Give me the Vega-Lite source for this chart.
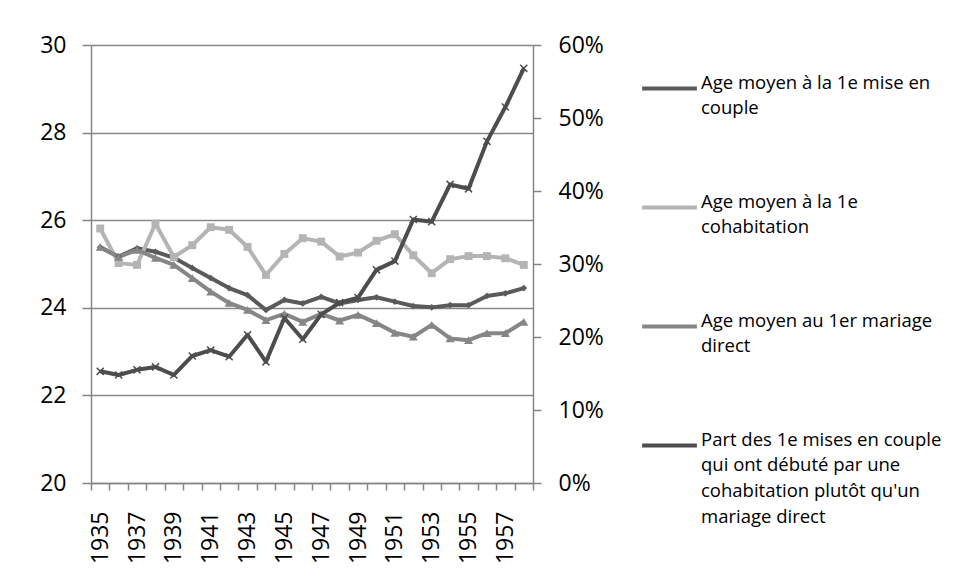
{
  "$schema": "https://vega.github.io/schema/vega-lite/v6.json",
  "width": 442,
  "height": 438,
  "autosize": {"type": "none"},
  "padding": {"left": 91, "top": 45, "right": 424, "bottom": 101},
  "background": "white",
  "config": {
    "view": {"stroke": null},
    "font": "Open Sans",
    "style": {"guide-label": {"lineHeight": 25.7}},
    "axis": {"labelFont": "Open Sans", "labelFontSize": 23, "labelColor": "#000000", "domainColor": "#868686", "tickColor": "#868686", "gridColor": "#868686", "domainWidth": 1.5, "tickWidth": 1.5, "gridWidth": 1.5}
  },
  "datasets": {
    "ages": [
      {"year": 1935, "series": "Age moyen à la 1e mise en couple", "value": 25.38},
      {"year": 1936, "series": "Age moyen à la 1e mise en couple", "value": 25.17},
      {"year": 1937, "series": "Age moyen à la 1e mise en couple", "value": 25.36},
      {"year": 1938, "series": "Age moyen à la 1e mise en couple", "value": 25.28},
      {"year": 1939, "series": "Age moyen à la 1e mise en couple", "value": 25.14},
      {"year": 1940, "series": "Age moyen à la 1e mise en couple", "value": 24.91},
      {"year": 1941, "series": "Age moyen à la 1e mise en couple", "value": 24.68},
      {"year": 1942, "series": "Age moyen à la 1e mise en couple", "value": 24.45},
      {"year": 1943, "series": "Age moyen à la 1e mise en couple", "value": 24.29},
      {"year": 1944, "series": "Age moyen à la 1e mise en couple", "value": 23.95},
      {"year": 1945, "series": "Age moyen à la 1e mise en couple", "value": 24.18},
      {"year": 1946, "series": "Age moyen à la 1e mise en couple", "value": 24.1},
      {"year": 1947, "series": "Age moyen à la 1e mise en couple", "value": 24.25},
      {"year": 1948, "series": "Age moyen à la 1e mise en couple", "value": 24.1},
      {"year": 1949, "series": "Age moyen à la 1e mise en couple", "value": 24.18},
      {"year": 1950, "series": "Age moyen à la 1e mise en couple", "value": 24.24},
      {"year": 1951, "series": "Age moyen à la 1e mise en couple", "value": 24.14},
      {"year": 1952, "series": "Age moyen à la 1e mise en couple", "value": 24.04},
      {"year": 1953, "series": "Age moyen à la 1e mise en couple", "value": 24.01},
      {"year": 1954, "series": "Age moyen à la 1e mise en couple", "value": 24.06},
      {"year": 1955, "series": "Age moyen à la 1e mise en couple", "value": 24.06},
      {"year": 1956, "series": "Age moyen à la 1e mise en couple", "value": 24.27},
      {"year": 1957, "series": "Age moyen à la 1e mise en couple", "value": 24.33},
      {"year": 1958, "series": "Age moyen à la 1e mise en couple", "value": 24.45},
      {"year": 1935, "series": "Age moyen à la 1e cohabitation", "value": 25.81},
      {"year": 1936, "series": "Age moyen à la 1e cohabitation", "value": 25.02},
      {"year": 1937, "series": "Age moyen à la 1e cohabitation", "value": 24.98},
      {"year": 1938, "series": "Age moyen à la 1e cohabitation", "value": 25.92},
      {"year": 1939, "series": "Age moyen à la 1e cohabitation", "value": 25.16},
      {"year": 1940, "series": "Age moyen à la 1e cohabitation", "value": 25.43},
      {"year": 1941, "series": "Age moyen à la 1e cohabitation", "value": 25.84},
      {"year": 1942, "series": "Age moyen à la 1e cohabitation", "value": 25.78},
      {"year": 1943, "series": "Age moyen à la 1e cohabitation", "value": 25.39},
      {"year": 1944, "series": "Age moyen à la 1e cohabitation", "value": 24.75},
      {"year": 1945, "series": "Age moyen à la 1e cohabitation", "value": 25.23},
      {"year": 1946, "series": "Age moyen à la 1e cohabitation", "value": 25.59},
      {"year": 1947, "series": "Age moyen à la 1e cohabitation", "value": 25.51},
      {"year": 1948, "series": "Age moyen à la 1e cohabitation", "value": 25.17},
      {"year": 1949, "series": "Age moyen à la 1e cohabitation", "value": 25.26},
      {"year": 1950, "series": "Age moyen à la 1e cohabitation", "value": 25.53},
      {"year": 1951, "series": "Age moyen à la 1e cohabitation", "value": 25.68},
      {"year": 1952, "series": "Age moyen à la 1e cohabitation", "value": 25.2},
      {"year": 1953, "series": "Age moyen à la 1e cohabitation", "value": 24.79},
      {"year": 1954, "series": "Age moyen à la 1e cohabitation", "value": 25.11},
      {"year": 1955, "series": "Age moyen à la 1e cohabitation", "value": 25.18},
      {"year": 1956, "series": "Age moyen à la 1e cohabitation", "value": 25.18},
      {"year": 1957, "series": "Age moyen à la 1e cohabitation", "value": 25.13},
      {"year": 1958, "series": "Age moyen à la 1e cohabitation", "value": 24.98},
      {"year": 1935, "series": "Age moyen au 1er mariage direct", "value": 25.39},
      {"year": 1936, "series": "Age moyen au 1er mariage direct", "value": 25.16},
      {"year": 1937, "series": "Age moyen au 1er mariage direct", "value": 25.32},
      {"year": 1938, "series": "Age moyen au 1er mariage direct", "value": 25.14},
      {"year": 1939, "series": "Age moyen au 1er mariage direct", "value": 24.98},
      {"year": 1940, "series": "Age moyen au 1er mariage direct", "value": 24.68},
      {"year": 1941, "series": "Age moyen au 1er mariage direct", "value": 24.37},
      {"year": 1942, "series": "Age moyen au 1er mariage direct", "value": 24.11},
      {"year": 1943, "series": "Age moyen au 1er mariage direct", "value": 23.95},
      {"year": 1944, "series": "Age moyen au 1er mariage direct", "value": 23.72},
      {"year": 1945, "series": "Age moyen au 1er mariage direct", "value": 23.86},
      {"year": 1946, "series": "Age moyen au 1er mariage direct", "value": 23.68},
      {"year": 1947, "series": "Age moyen au 1er mariage direct", "value": 23.86},
      {"year": 1948, "series": "Age moyen au 1er mariage direct", "value": 23.71},
      {"year": 1949, "series": "Age moyen au 1er mariage direct", "value": 23.84},
      {"year": 1950, "series": "Age moyen au 1er mariage direct", "value": 23.65},
      {"year": 1951, "series": "Age moyen au 1er mariage direct", "value": 23.43},
      {"year": 1952, "series": "Age moyen au 1er mariage direct", "value": 23.34},
      {"year": 1953, "series": "Age moyen au 1er mariage direct", "value": 23.61},
      {"year": 1954, "series": "Age moyen au 1er mariage direct", "value": 23.3},
      {"year": 1955, "series": "Age moyen au 1er mariage direct", "value": 23.26},
      {"year": 1956, "series": "Age moyen au 1er mariage direct", "value": 23.42},
      {"year": 1957, "series": "Age moyen au 1er mariage direct", "value": 23.42},
      {"year": 1958, "series": "Age moyen au 1er mariage direct", "value": 23.68}
    ],
    "share": [
      {"year": 1935, "series": "Part des 1e mises en couple qui ont débuté par une cohabitation plutôt qu'un mariage direct", "value": 0.153},
      {"year": 1936, "series": "Part des 1e mises en couple qui ont débuté par une cohabitation plutôt qu'un mariage direct", "value": 0.148},
      {"year": 1937, "series": "Part des 1e mises en couple qui ont débuté par une cohabitation plutôt qu'un mariage direct", "value": 0.155},
      {"year": 1938, "series": "Part des 1e mises en couple qui ont débuté par une cohabitation plutôt qu'un mariage direct", "value": 0.159},
      {"year": 1939, "series": "Part des 1e mises en couple qui ont débuté par une cohabitation plutôt qu'un mariage direct", "value": 0.148},
      {"year": 1940, "series": "Part des 1e mises en couple qui ont débuté par une cohabitation plutôt qu'un mariage direct", "value": 0.174},
      {"year": 1941, "series": "Part des 1e mises en couple qui ont débuté par une cohabitation plutôt qu'un mariage direct", "value": 0.182},
      {"year": 1942, "series": "Part des 1e mises en couple qui ont débuté par une cohabitation plutôt qu'un mariage direct", "value": 0.173},
      {"year": 1943, "series": "Part des 1e mises en couple qui ont débuté par une cohabitation plutôt qu'un mariage direct", "value": 0.203},
      {"year": 1944, "series": "Part des 1e mises en couple qui ont débuté par une cohabitation plutôt qu'un mariage direct", "value": 0.166},
      {"year": 1945, "series": "Part des 1e mises en couple qui ont débuté par une cohabitation plutôt qu'un mariage direct", "value": 0.226},
      {"year": 1946, "series": "Part des 1e mises en couple qui ont débuté par une cohabitation plutôt qu'un mariage direct", "value": 0.197},
      {"year": 1947, "series": "Part des 1e mises en couple qui ont débuté par une cohabitation plutôt qu'un mariage direct", "value": 0.231},
      {"year": 1948, "series": "Part des 1e mises en couple qui ont débuté par une cohabitation plutôt qu'un mariage direct", "value": 0.247},
      {"year": 1949, "series": "Part des 1e mises en couple qui ont débuté par une cohabitation plutôt qu'un mariage direct", "value": 0.254},
      {"year": 1950, "series": "Part des 1e mises en couple qui ont débuté par une cohabitation plutôt qu'un mariage direct", "value": 0.292},
      {"year": 1951, "series": "Part des 1e mises en couple qui ont débuté par une cohabitation plutôt qu'un mariage direct", "value": 0.304},
      {"year": 1952, "series": "Part des 1e mises en couple qui ont débuté par une cohabitation plutôt qu'un mariage direct", "value": 0.361},
      {"year": 1953, "series": "Part des 1e mises en couple qui ont débuté par une cohabitation plutôt qu'un mariage direct", "value": 0.358},
      {"year": 1954, "series": "Part des 1e mises en couple qui ont débuté par une cohabitation plutôt qu'un mariage direct", "value": 0.409},
      {"year": 1955, "series": "Part des 1e mises en couple qui ont débuté par une cohabitation plutôt qu'un mariage direct", "value": 0.403},
      {"year": 1956, "series": "Part des 1e mises en couple qui ont débuté par une cohabitation plutôt qu'un mariage direct", "value": 0.468},
      {"year": 1957, "series": "Part des 1e mises en couple qui ont débuté par une cohabitation plutôt qu'un mariage direct", "value": 0.515},
      {"year": 1958, "series": "Part des 1e mises en couple qui ont débuté par une cohabitation plutôt qu'un mariage direct", "value": 0.568}
    ]
  },
  "layer": [
    {
      "data": {"name": "ages"},
      "layer": [
        {
          "mark": {"type": "line", "strokeWidth": 4, "strokeJoin": "round"},
          "encoding": {
            "x": {"field": "year", "type": "ordinal", "bandPosition": 0.5,
              "scale": {"type": "band", "paddingInner": 0, "paddingOuter": 0},
              "axis": {"title": null, "labelAngle": -90, "labelAlign": "right", "labelBaseline": "middle", "tickBand": "extent", "ticks": true, "tickSize": 7, "labelPadding": 21, "labelExpr": "datum.value % 2 == 1 ? datum.label : ''"}},
            "y": {"field": "value", "type": "quantitative",
              "scale": {"domain": [20, 30], "nice": false, "zero": false},
              "axis": {"title": null, "values": [20, 22, 24, 26, 28, 30], "grid": true, "tickSize": 9, "labelPadding": 16}},
            "color": {"field": "series", "type": "nominal",
              "scale": {"domain": ["Age moyen à la 1e mise en couple", "Age moyen à la 1e cohabitation", "Age moyen au 1er mariage direct", "Part des 1e mises en couple qui ont débuté par une cohabitation plutôt qu'un mariage direct"],
                "range": ["#5a5a5a", "#b4b4b4", "#868686", "#4d4d4d"]},
              "legend": {"title": null, "orient": "none", "legendX": 549, "legendY": 14, "symbolType": "stroke", "symbolStrokeWidth": 4, "symbolSize": 3000, "labelFont": "Open Sans", "labelFontSize": 18.5, "labelColor": "#000000", "labelBaseline": "alphabetic", "labelOffset": 2, "labelLimit": 400, "rowPadding": 60,
                "labelExpr": "datum.value == 'Age moyen à la 1e mise en couple' ? ['Age moyen à la 1e mise en', 'couple'] : datum.value == 'Age moyen à la 1e cohabitation' ? ['Age moyen à la 1e', 'cohabitation'] : datum.value == 'Age moyen au 1er mariage direct' ? ['Age moyen au 1er mariage', 'direct'] : ['Part des 1e mises en couple', 'qui ont débuté par une', \"cohabitation plutôt qu'un\", 'mariage direct']"}}
          }
        },
        {
          "mark": {"type": "point", "filled": true, "opacity": 1},
          "encoding": {
            "x": {"field": "year", "type": "ordinal", "bandPosition": 0.5},
            "y": {"field": "value", "type": "quantitative"},
            "color": {"field": "series", "type": "nominal"},
            "shape": {"field": "series", "type": "nominal", "legend": null,
              "scale": {"domain": ["Age moyen à la 1e mise en couple", "Age moyen à la 1e cohabitation", "Age moyen au 1er mariage direct"], "range": ["diamond", "square", "triangle-up"]}},
            "size": {"field": "series", "type": "nominal", "legend": null,
              "scale": {"domain": ["Age moyen à la 1e mise en couple", "Age moyen à la 1e cohabitation", "Age moyen au 1er mariage direct"], "range": [45, 80, 140]}}
          }
        }
      ]
    },
    {
      "data": {"name": "share"},
      "layer": [
        {
          "mark": {"type": "line", "strokeWidth": 4, "strokeJoin": "round"},
          "encoding": {
            "x": {"field": "year", "type": "ordinal", "bandPosition": 0.5},
            "y": {"field": "value", "type": "quantitative",
              "scale": {"domain": [0, 0.6], "nice": false},
              "axis": {"title": null, "orient": "right", "format": ".0%", "values": [0, 0.1, 0.2, 0.3, 0.4, 0.5, 0.6], "grid": false, "tickSize": 8, "labelPadding": 17}},
            "color": {"field": "series", "type": "nominal"}
          }
        },
        {
          "mark": {"type": "point", "shape": "M-1,-1L1,1M-1,1L1,-1", "filled": false, "strokeWidth": 1.5, "size": 50, "opacity": 1},
          "encoding": {
            "x": {"field": "year", "type": "ordinal", "bandPosition": 0.5},
            "y": {"field": "value", "type": "quantitative"},
            "color": {"field": "series", "type": "nominal"}
          }
        }
      ]
    }
  ],
  "resolve": {"scale": {"y": "independent"}}
}
